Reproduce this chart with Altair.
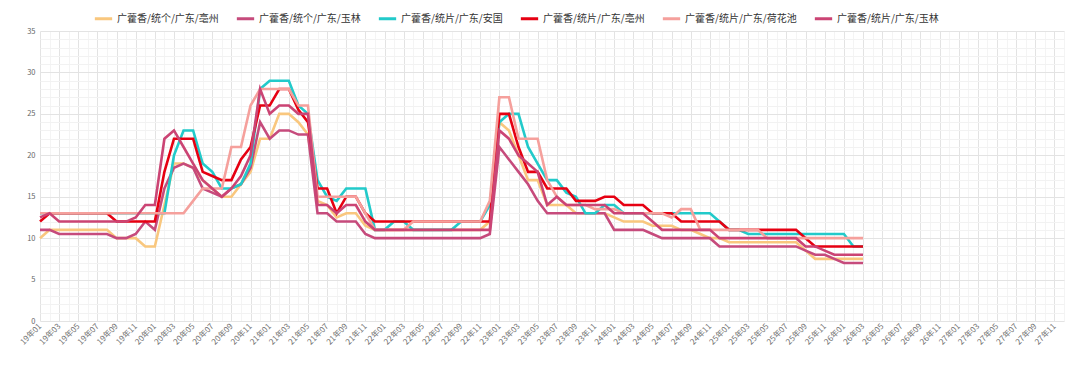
import altair as alt
import pandas as pd

# ---- categories (x axis): 19年01 .. 27年12 ----
months = [f"{y}年{m:02d}" for y in range(19, 28) for m in range(1, 13)]

series_names = [
    "广藿香/统个/广东/亳州",
    "广藿香/统个/广东/玉林",
    "广藿香/统片/广东/安国",
    "广藿香/统片/广东/亳州",
    "广藿香/统片/广东/荷花池",
    "广藿香/统片/广东/玉林",
]
series_colors = ["#F9C77E", "#C64B7C", "#22CACA", "#E60012", "#F5A09C", "#CB4474"]

# ---- monthly prices 19年01 .. 26年03 (87 values each) ----
tongge_bozhou = [10, 11, 11, 11, 11, 11, 11, 11, 10, 10, 10, 9, 9,
                 14, 19, 19, 18.5, 17, 16, 15, 15, 16.5, 18, 22, 22, 25, 25, 24, 22.5,
                 14.5, 14, 12.5, 13, 13, 11.5, 11, 11, 11, 11, 11, 11, 11, 11, 11, 11, 11, 11, 12,
                 24, 23, 20, 17, 17, 14, 14, 14, 13, 13, 13, 13, 12.5,
                 12, 12, 12, 11.5, 11.5, 11.5, 11, 11, 10.5, 10, 10, 9.5, 9.5, 9.5, 9.5, 9.5, 9.5, 9.5, 9.5,
                 8.5, 7.5, 7.5, 7.5, 7.5, 7.5, 7.5]
tongge_yulin = [11, 11, 10.5, 10.5, 10.5, 10.5, 10.5, 10.5, 10, 10, 10.5, 12, 11,
                16, 18.5, 19, 18.5, 16, 15.5, 15, 16, 16.5, 18.5, 24, 22, 23, 23, 22.5, 22.5,
                13, 13, 12, 12, 12, 10.5, 10, 10, 10, 10, 10, 10, 10, 10, 10, 10, 10, 10, 10.5,
                21, 19.5, 18, 16.5, 14.5, 13, 13, 13, 13, 13, 13, 13, 11,
                11, 11, 11, 10.5, 10, 10, 10, 10, 10, 10, 9, 9, 9, 9, 9, 9, 9, 9, 9,
                8.5, 8, 8, 7.5, 7, 7, 7]
tongpian_anguo = [13, 13, 13, 13, 13, 13, 13, 13, 13, 13, 13, 13, 13,
                  13, 20, 23, 23, 19, 18, 16, 16, 16.5, 19, 28, 29, 29, 29, 26, 25,
                  17, 15, 14.5, 16, 16, 16, 11, 11, 12, 12, 11, 11, 11, 11, 11, 12, 12, 12, 14,
                  24, 25, 25, 21, 19, 17, 17, 15.5, 15, 13, 13, 14, 14,
                  13, 13, 13, 13, 13, 13, 13, 13, 13, 13, 12, 11, 11,
                  10.5, 10.5, 10.5, 10.5, 10.5, 10.5, 10.5, 10.5, 10.5, 10.5, 10.5, 9, 9]
tongpian_bozhou = [12, 13, 13, 13, 13, 13, 13, 13, 12, 12, 12, 12, 12,
                   18, 22, 22, 22, 18, 17.5, 17, 17, 19.5, 21, 26, 26, 28, 28, 25.5, 24,
                   16, 16, 13, 15, 15, 13, 12, 12, 12, 12, 12, 12, 12, 12, 12, 12, 12, 12, 12,
                   25, 25, 21, 18, 18, 16, 16, 16, 14.5, 14.5, 14.5, 15, 15,
                   14, 14, 14, 13, 13, 13, 12, 12, 12, 12, 12, 11, 11, 11, 11, 11, 11, 11, 11,
                   10, 9, 9, 9, 9, 9, 9]
tongpian_hehuachi = [13, 13, 13, 13, 13, 13, 13, 13, 13, 13, 13, 13, 13,
                     13, 13, 13, 14.5, 16, 16, 16, 21, 21, 26, 28, 28, 28, 28, 26, 26,
                     15, 15, 15, 15, 15, 13, 11, 11, 11, 11, 12, 12, 12, 12, 12, 12, 12, 12, 14.5,
                     27, 27, 22, 22, 22, 17, 15, 14, 14, 14, 13.5, 13.5, 13.5,
                     13, 13, 13, 13, 13, 12.5, 13.5, 13.5, 11, 11, 11, 11, 11, 11, 11,
                     10, 10, 10, 10, 10, 10, 10, 10, 10, 10, 10]
tongpian_yulin = [12.5, 13, 12, 12, 12, 12, 12, 12, 12, 12, 12.5, 14, 14,
                  22, 23, 21, 19, 17, 16, 15, 16, 17.5, 20, 28, 25, 26, 26, 25, 25,
                  14, 14, 13, 14, 14, 12, 11, 11, 11, 11, 11, 11, 11, 11, 11, 11, 11, 11, 11,
                  23, 22, 20, 19, 18, 14, 15, 14, 14, 14, 14, 14, 13,
                  13, 13, 13, 12, 11, 11, 11, 11, 11, 11, 10, 10, 10, 10, 10, 10, 10, 10, 10,
                  9, 9, 8.5, 8, 8, 8, 8]

all_series = [tongge_bozhou, tongge_yulin, tongpian_anguo,
              tongpian_bozhou, tongpian_hehuachi, tongpian_yulin]

y_ticks = list(range(0, 36))

rows = []
for name, vals in zip(series_names, all_series):
    for m, v in zip(months, vals):
        rows.append({"月份": m, "品种": name, "价格": v})
df = pd.DataFrame(rows)

FONT = "Noto Sans CJK SC"

x_enc = alt.X(
    "月份:O",
    title=None,
    scale=alt.Scale(domain=months, type="point", padding=0),
    axis=alt.Axis(
        values=months,
        labelExpr="toNumber(substring(datum.value, 3, 5)) % 2 == 1 ? datum.value : ''",
        labelAngle=315,
        labelAlign="right",
        labelBaseline="middle",
        labelFontSize=8,
        labelColor="#707070",
        labelPadding=4,
        labelOverlap=False,
        domain=False,
        ticks=False,
        grid=True,
        gridColor={"condition": {"test": "toNumber(substring(datum.value, 3, 5)) % 2 == 1",
                                 "value": "#E3E3E3"}, "value": "#F4F4F4"},
        gridWidth=1,
    ),
)
y_enc = alt.Y(
    "价格:Q",
    title=None,
    scale=alt.Scale(domain=[0, 35], nice=False, zero=True),
    axis=alt.Axis(
        values=y_ticks,
        labelExpr="datum.value % 5 === 0 ? datum.label : ''",
        labelFontSize=7.5,
        labelColor="#666666",
        labelPadding=5,
        domain=False,
        ticks=False,
        grid=True,
        gridColor={"condition": {"test": "datum.value % 5 === 0", "value": "#E3E3E3"},
                   "value": "#F2F2F2"},
        gridWidth=1,
    ),
)
color_enc = alt.Color(
    "品种:N",
    scale=alt.Scale(domain=series_names, range=series_colors),
    legend=alt.Legend(
        title=None,
        orient="none",
        direction="horizontal",
        legendX=53,
        legendY=-23,
        symbolType="stroke",
        symbolStrokeWidth=3,
        symbolSize=300,
        labelFontSize=10,
        labelColor="#333333",
        labelOffset=3,
        columnPadding=11,
        columns=6,
    ),
)

layers = []
for name in series_names:
    layers.append(
        alt.Chart(df)
        .transform_filter(alt.datum["品种"] == name)
        .mark_line(strokeWidth=2.6)
        .encode(x=x_enc, y=y_enc, color=color_enc)
    )

chart = (
    alt.layer(*layers)
    .properties(
        width=1024,
        height=290,
        padding={"left": 32, "top": 23, "right": 8, "bottom": 45},
        autosize=alt.AutoSizeParams(type="none"),
    )
    .configure(font=FONT)
    .configure_view(stroke=None)
    .configure_legend(labelFont=FONT)
    .configure_axis(labelFont=FONT)
)

chart.save("out.html", embed_options={"renderer": "svg", "actions": False})
